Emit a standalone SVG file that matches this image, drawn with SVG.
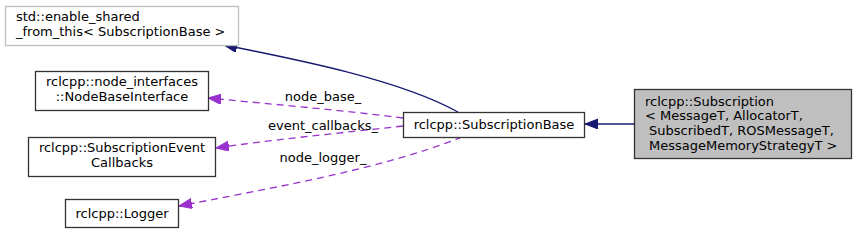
<svg xmlns="http://www.w3.org/2000/svg" width="856" height="234" viewBox="0 0 856 234">
<defs>
<style>
text{font-family:"DejaVu Sans",sans-serif;font-size:13px;fill:#000}
.box{fill:#fff;stroke:#333;stroke-width:1.3}
.gray{fill:#fff;stroke:#bfbfbf;stroke-width:1.3}
.cur{fill:#bfbfbf;stroke:#333;stroke-width:1.3}
.inh{fill:none;stroke:#191970;stroke-width:1.3}
.use{fill:none;stroke:#9a32cd;stroke-width:1.3;stroke-dasharray:7,5}
.m{text-anchor:middle}
</style>
<marker id="an" markerWidth="14" markerHeight="12" refX="13" refY="5" orient="auto" markerUnits="userSpaceOnUse">
<path d="M0,0 L13,5 L0,10 z" fill="#191970" stroke="#191970"/>
</marker>
<marker id="ap" markerWidth="14" markerHeight="12" refX="13" refY="5" orient="auto" markerUnits="userSpaceOnUse">
<path d="M0,0 L13,5 L0,10 z" fill="#9a32cd" stroke="#9a32cd"/>
</marker>
</defs>
<g id="connectors">
<path class="inh" marker-end="url(#an)" d="M634,124 L585,124"/>
<path class="inh" marker-end="url(#an)" d="M458,112 C400,80 300,60 224,45"/>
<path class="use" marker-end="url(#ap)" d="M403,118 C340,110 270,104 208,98"/>
<text class="m" x="323" y="101">node_base_</text>
<path class="use" marker-end="url(#ap)" d="M403,126 C340,133 270,140 216,148"/>
<text class="m" x="323" y="130">event_callbacks_</text>
<path class="use" marker-end="url(#ap)" d="M462,137 C380,170 260,190 179,206"/>
<text class="m" x="323" y="162">node_logger_</text>
</g>
<g id="enable_shared">
<rect class="gray" x="5.5" y="6.5" width="233" height="39"/>
<text x="16" y="21">std::enable_shared</text>
<text x="16" y="36">_from_this&lt; SubscriptionBase &gt;</text>
</g>
<g id="node_base">
<rect class="box" x="35.5" y="71.5" width="173" height="39"/>
<text class="m" x="122" y="86">rclcpp::node_interfaces</text>
<text class="m" x="122" y="101">::NodeBaseInterface</text>
</g>
<g id="event_callbacks">
<rect class="box" x="28.5" y="137.5" width="187" height="39"/>
<text class="m" x="122" y="152">rclcpp::SubscriptionEvent</text>
<text class="m" x="122" y="167">Callbacks</text>
</g>
<g id="logger">
<rect class="box" x="65.5" y="199.5" width="113" height="28"/>
<text class="m" x="122" y="218">rclcpp::Logger</text>
</g>
<g id="subscription_base">
<rect class="box" x="403.5" y="112.5" width="181" height="25"/>
<text class="m" x="494" y="129">rclcpp::SubscriptionBase</text>
</g>
<g id="subscription">
<rect class="cur" x="634.5" y="89.5" width="217" height="69"/>
<text x="645" y="106">rclcpp::Subscription</text>
<text x="645" y="120">&lt; MessageT, AllocatorT,</text>
<text x="649" y="135">SubscribedT, ROSMessageT,</text>
<text x="649" y="150">MessageMemoryStrategyT &gt;</text>
</g>
</svg>
